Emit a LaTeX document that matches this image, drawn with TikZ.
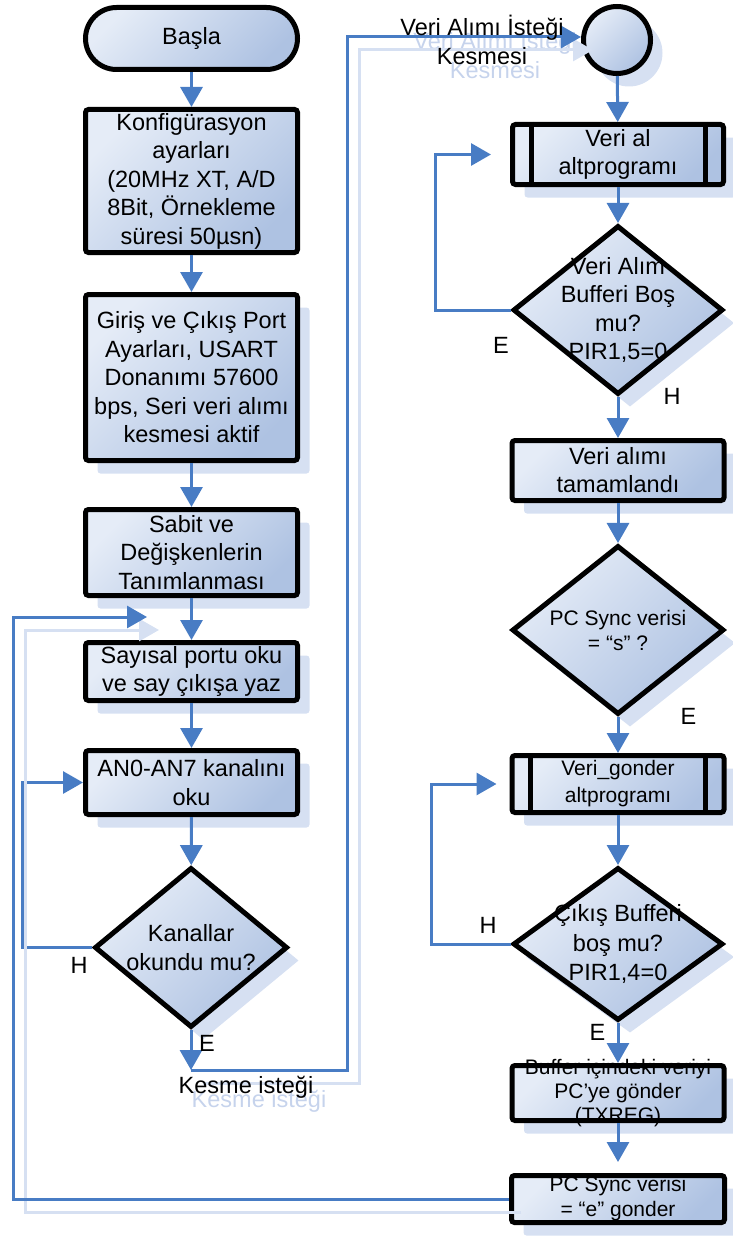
\documentclass[tikz,border=0pt]{standalone}
\usepackage{fontspec}
\setmainfont{Liberation Sans}
\usetikzlibrary{
  arrows.meta,
  calc,
  shapes.geometric,
  shapes.misc,
  shadows
}
\definecolor{boxlight}{RGB}{229,236,247}
\definecolor{boxdark}{RGB}{174,194,226}
\definecolor{flowblue}{RGB}{72,124,196}
\definecolor{shadowblue}{RGB}{214,224,242}
\definecolor{shadowtext}{RGB}{198,211,236}
\tikzset{
  line cap=round,
  line join=round,
  gradfill/.style={top color=boxlight, bottom color=boxdark, shading angle=45},
  txt/.style={font=\fontsize{23.5}{28.5}\selectfont, align=center, inner sep=0pt},
  txtsmall/.style={font=\fontsize{21}{25}\selectfont, align=center, inner sep=0pt},
  tag/.style={font=\fontsize{23.5}{28.5}\selectfont, inner sep=0pt},
  terminal/.style={rounded rectangle, draw, line width=5pt, gradfill, inner sep=0pt, minimum width=212pt, minimum height=62pt},
  process/.style={rectangle, draw, line width=5pt, rounded corners=3pt, gradfill, inner sep=0pt, minimum width=212pt},
  decision/.style={diamond, draw, line width=5pt, gradfill, inner sep=0pt, minimum width=210pt},
  joint/.style={circle, draw, line width=5pt, gradfill, inner sep=0pt, minimum size=67pt},
  boxshadow/.style={general shadow={fill=shadowblue, shadow xshift=12pt, shadow yshift=-13pt}},
  flow/.style={draw=flowblue, line width=3pt, -{Triangle[length=20pt,width=22pt]}},
  flowshadow/.style={preaction={draw=shadowblue, line width=3pt, transform canvas={shift={(12pt,-13pt)}}}}
}

\begin{document}
\begin{tikzpicture}[x=1pt, y=-1pt]
  \useasboundingbox (0,0) rectangle (732,1236);

  % shadow texts
  \node[txt, text=shadowtext] (intreq-sh) at (495,54) {Veri Alımı İsteği\\Kesmesi};
  \node[tag, text=shadowtext, anchor=base] (kreq-sh) at (259,1107) {Kesme isteği};

  % left column
  \node[terminal, label={[txt]center:Başla}] (start) at (191.5,38.5) {};
  \node[process, minimum height=143pt,
    label={[txt]center:{Konfigürasyon\\ayarları\\(20MHz XT, A/D\\8Bit, Örnekleme\\süresi 50µsn)}}] (config) at (191.5,181) {};
  \node[process, boxshadow, minimum height=166pt,
    label={[txt]center:{Giriş ve Çıkış Port\\Ayarları, USART\\Donanımı 57600\\bps, Seri veri alımı\\kesmesi aktif}}] (ports) at (191.5,377.5) {};
  \node[process, boxshadow, minimum height=86pt,
    label={[txt]center:{Sabit ve\\Değişkenlerin\\Tanımlanması}}] (vars) at (191.5,552.5) {};
  \node[process, boxshadow, minimum height=58pt,
    label={[txt]center:{Sayısal portu oku\\ve say çıkışa yaz}}] (digital) at (191.5,671.5) {};
  \node[process, boxshadow, minimum height=64pt,
    label={[txt]center:{AN0-AN7 kanalını\\oku}}] (adc) at (191.5,782.5) {};
  \node[decision, boxshadow, minimum width=193pt, minimum height=160pt,
    label={[txt]center:{Kanallar\\okundu mu?}}] (chdone) at (191,947.5) {};

  % right column
  \node[joint, boxshadow] (intr) at (617,40) {};
  \node[process, boxshadow, minimum width=211pt, minimum height=60pt,
    label={[txt, font=\fontsize{23.5}{28}\selectfont]center:{Veri al\\altprogramı}}] (rxsub) at (618,154.5) {};
  \node[decision, boxshadow, minimum height=169pt,
    label={[txt]center:{Veri Alım\\Bufferi Boş\\mu?\\PIR1,5=0}}] (rxempty) at (618,310) {};
  \node[process, boxshadow, minimum height=60pt,
    label={[txt, font=\fontsize{23.5}{28}\selectfont]center:{Veri alımı\\tamamlandı}}] (rxdone) at (618,470.5) {};
  \node[decision, boxshadow, minimum width=212pt, minimum height=169pt,
    label={[txtsmall]center:{PC Sync verisi\\= “s” ?}}] (sync) at (618,630) {};
  \node[process, boxshadow, minimum height=57pt,
    label={[txtsmall, font=\fontsize{21}{27}\selectfont]center:{Veri\_gonder\\altprogramı}}] (txsub) at (618,784) {};
  \node[decision, boxshadow, minimum height=153pt,
    label={[txt, font=\fontsize{23.5}{29.5}\selectfont]center:{Çıkış Bufferi\\boş mu?\\PIR1,4=0}}] (txempty) at (618,944) {};
  \node[process, boxshadow, minimum height=55pt,
    label={[txtsmall, font=\fontsize{21}{24}\selectfont]center:{Buffer içindeki veriyi\\PC’ye gönder\\(TXREG)}}] (txbuf) at (618,1093) {};
  \node[process, boxshadow, minimum width=213pt, minimum height=47pt,
    label={[txtsmall]center:{PC Sync verisi\\= “e” gonder}}] (syncend) at (618,1199) {};

  \foreach \n in {rxsub, txsub} {
    \draw[line width=5pt] ([xshift=21pt]\n.north west) -- ([xshift=21pt]\n.south west);
    \draw[line width=5pt] ([xshift=-21pt]\n.north east) -- ([xshift=-21pt]\n.south east);
  }

  % left flow
  \draw[flow] (start) -- (config);
  \draw[flow] (config) -- (ports);
  \draw[flow] (ports) -- (vars);
  \draw[flow] (vars) -- (digital);
  \draw[flow] (digital) -- (adc);
  \draw[flow] (adc) -- (chdone);
  \draw[flow] (chdone.west) -| ([xshift=-61pt]adc.west) -- (adc.west);
  \coordinate (kreq) at ([yshift=-40pt]chdone.south);
  \draw[flow] (chdone) -- (kreq);
  \draw[flow, flowshadow] (kreq) -- ++(156,0) |- ([yshift=3pt]intr.west);

  % right flow
  \draw[flow] (intr) -- (rxsub);
  \draw[flow] (rxsub) -- (rxempty);
  \draw[flow] (rxempty.west) -| ([xshift=-75pt]rxsub.west) -- ([xshift=-19pt]rxsub.west);
  \draw[flow] (rxempty) -- (rxdone);
  \draw[flow] (rxdone) -- (sync);
  \draw[flow] (sync) -- (txsub);
  \draw[flow] (txsub) -- (txempty);
  \draw[flow] (txempty.west) -| ([xshift=-78pt]txsub.west) -- ([xshift=-13pt]txsub.west);
  \draw[flow] (txempty) -- (txbuf);
  \draw[flow] (txbuf) -- ([yshift=11pt]syncend.north);
  \coordinate (back) at (147,617);
  \draw[flow, flowshadow] (syncend.west) -| ([xshift=-134pt]back) -- (back);

  % branch labels
  \node[tag] (h-chdone) at (79,965) {H};
  \node[tag] (e-chdone) at (207,1043) {E};
  \node[tag] (e-rxempty) at (501,345) {E};
  \node[tag] (h-rxempty) at (672,396) {H};
  \node[tag] (e-sync) at (688.5,716) {E};
  \node[tag] (h-txempty) at (488,925) {H};
  \node[tag] (e-txempty) at (597.5,1032) {E};

  \node[txt] (intreq) at (482,40) {Veri Alımı İsteği\\Kesmesi};
  \node[tag, anchor=base] (kreqtxt) at (246,1093) {Kesme isteği};
\end{tikzpicture}
\end{document}
